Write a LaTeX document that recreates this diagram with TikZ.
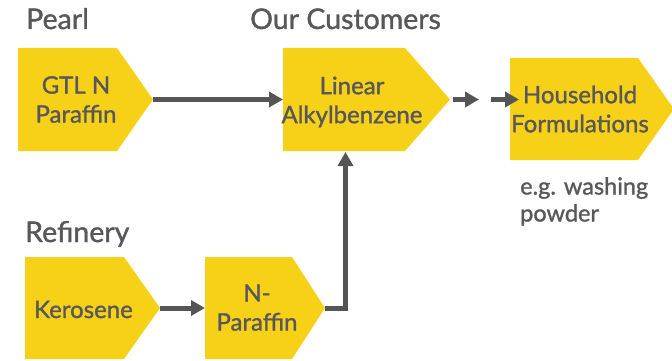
\documentclass[tikz,border=0pt]{standalone}
\usepackage{fontspec}
\setmainfont{Lato}[UprightFeatures={FakeBold=1.2}]
\usetikzlibrary{arrows.meta}
\definecolor{shellyellow}{RGB}{246,209,24}
\definecolor{txtgray}{RGB}{88,88,90}
\definecolor{arrgray}{RGB}{85,85,85}
\tikzset{
  chev/.style={fill=shellyellow},
  boxtext/.style={text=txtgray, align=center, font=\fontsize{24}{29}\selectfont, inner sep=0pt},
  head/.style={text=txtgray, anchor=base west, font=\fontsize{28.5}{34}\selectfont, inner sep=0pt},
  conn/.style={draw=arrgray, line width=5pt, -{Triangle[length=14pt,width=15pt]}},
}
\begin{document}
\begin{tikzpicture}[x=1pt,y=-1pt]
\useasboundingbox (0,0) rectangle (672,361);
\clip (0,0) rectangle (672,361);
% headings
\node[head] (pearl) at (26,29) {Pearl};
\node[head] (cust) at (250,29) {Our Customers};
\node[head] (ref) at (25,242) {Refinery};
% GTL N Paraffin
\fill[chev] (18,48) -- (117,48) -- (153,99.5) -- (117,151) -- (18,151) -- cycle;
\coordinate (gtl-tip) at (153,99.5);
\node[boxtext] (gtl) at (76,99.5) {GTL N\\Paraffin};
% Linear Alkylbenzene
\fill[chev] (283,48) -- (405,48) -- (450,99.5) -- (405,151) -- (283,151) -- cycle;
\coordinate (lab-w) at (283,99.5);
\coordinate (lab-s) at (345.5,152);
\node[boxtext] (lab) at (352,102) {Linear\\Alkylbenzene};
% Household Formulations
\fill[chev] (510,58) -- (638,58) -- (674,109) -- (638,160) -- (510,160) -- cycle;
\node[boxtext] (hf) at (580,109) {Household\\Formulations};
\coordinate (a1s) at (453,99.5);
\coordinate (a1e) at (479,99.5);
\coordinate (a2s) at (491,99.5);
\coordinate (a2e) at (519,99.5);
\node[text=txtgray, anchor=north west, align=left, font=\fontsize{23.5}{27}\selectfont, inner sep=0pt] (eg) at (520,177) {e.g. washing\\powder};
% Kerosene
\fill[chev] (25,257) -- (124,257) -- (160,308) -- (124,359) -- (25,359) -- cycle;
\coordinate (ker-tip) at (160,308);
\node[boxtext] (ker) at (83.5,309.5) {Kerosene};
% N-Paraffin
\fill[chev] (205,257) -- (292,257) -- (325,308) -- (292,359) -- (205,359) -- cycle;
\coordinate (np-w) at (205,308);
\coordinate (np-tip) at (325,308);
\node[boxtext] (np) at (257,307.5) {N-\\Paraffin};
% connectors
\draw[conn] (gtl-tip) -- (lab-w);
\draw[conn] (a1s) -- (a1e);
\draw[conn] (a2s) -- (a2e);
\draw[conn] (ker-tip) -- (np-w);
\draw[conn] (np-tip) -| (lab-s);
\end{tikzpicture}
\end{document}
